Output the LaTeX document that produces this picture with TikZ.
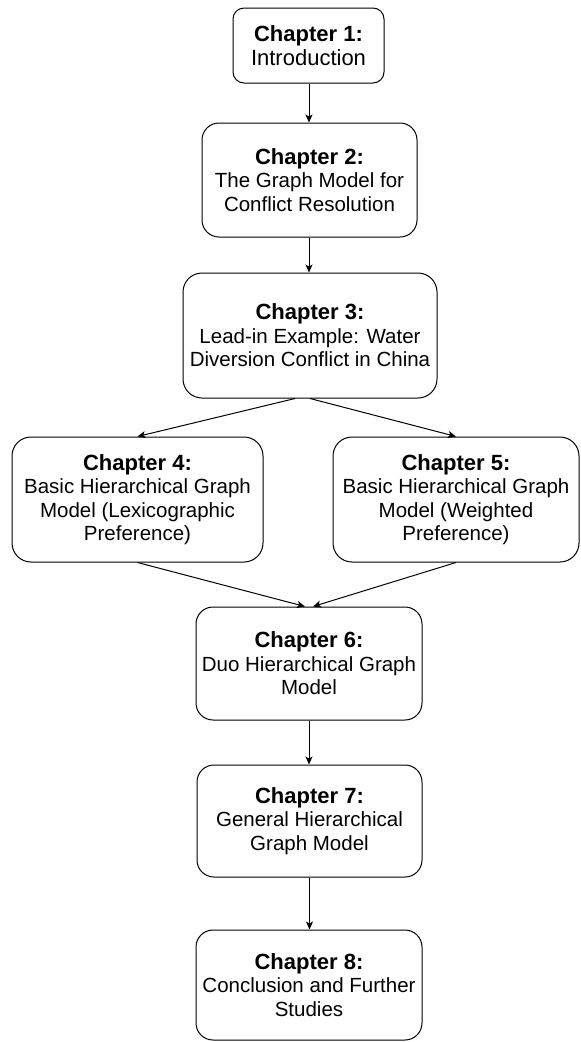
\documentclass[tikz,border=0pt]{standalone}
\usepackage{fontspec}
\setmainfont{Liberation Sans}
\usetikzlibrary{arrows.meta}

\newcommand\chaptitle[1]{{\fontsize{22}{23.5}\selectfont\bfseries #1}}

\tikzset{
  chapbox/.style={draw=black, line width=1pt, fill=white, rectangle,
    inner sep=0pt, align=center,
    font=\fontsize{20.5}{23.5}\selectfont},
  flow/.style={draw=black, line width=1pt,
    -{Stealth[length=8pt,width=7pt,inset=2pt]}}
}

\begin{document}
\begin{tikzpicture}[x=1pt, y=-1pt]
  \useasboundingbox (0,0) rectangle (581,1042);

  \node[chapbox, minimum width=151pt, minimum height=75pt, rounded corners=11pt]
    (c1) at (308.5,45.5) {\chaptitle{Chapter 1:}\\{\fontsize{22}{23.5}\selectfont Introduction}};
  \node[chapbox, minimum width=215pt, minimum height=114pt, rounded corners=17pt]
    (c2) at (309.5,180) {\chaptitle{Chapter 2:}\\The Graph Model for\\Conflict Resolution};
  \node[chapbox, minimum width=254pt, minimum height=125pt, rounded corners=19pt]
    (c3) at (310,335.5) {\chaptitle{Chapter 3:}\\Lead-in Example: Water\\Diversion Conflict in China};
  \node[chapbox, minimum width=251pt, minimum height=125pt, rounded corners=19pt]
    (c4) at (137.5,499.5) {\chaptitle{Chapter 4:}\\Basic Hierarchical Graph\\Model (Lexicographic\\Preference)};
  \node[chapbox, minimum width=246pt, minimum height=125pt, rounded corners=19pt]
    (c5) at (456,499.5) {\chaptitle{Chapter 5:}\\Basic Hierarchical Graph\\Model (Weighted\\Preference)};
  \node[chapbox, minimum width=226pt, minimum height=113pt, rounded corners=17pt]
    (c6) at (309,663.5) {\chaptitle{Chapter 6:}\\Duo Hierarchical Graph\\Model};
  \node[chapbox, minimum width=225pt, minimum height=112pt, rounded corners=17pt]
    (c7) at (309.5,821) {\chaptitle{Chapter 7:}\\General Hierarchical\\Graph Model};
  \node[chapbox, minimum width=226pt, minimum height=110pt, rounded corners=17pt]
    (c8) at (309,985) {\chaptitle{Chapter 8:}\\Conclusion and Further\\Studies};

  \draw[flow] ([xshift=0.5pt]c1.south) -- ([xshift=0.5pt]c1.south |- c2.north);
  \draw[flow] ([xshift=-0.5pt]c2.south) -- ([xshift=-0.5pt]c2.south |- c3.north);
  \draw[flow] ([xshift=-15pt]c3.south) -- (c4.north);
  \draw[flow] (c3.south) -- (c5.north);
  \draw[flow] (c4.south) -- ([xshift=-4pt]c6.north);
  \draw[flow] (c5.south) -- ([xshift=4pt]c6.north);
  \draw[flow] (c6.south) -- (c6.south |- c7.north);
  \draw[flow] (c7.south) -- (c7.south |- c8.north);
\end{tikzpicture}
\end{document}
